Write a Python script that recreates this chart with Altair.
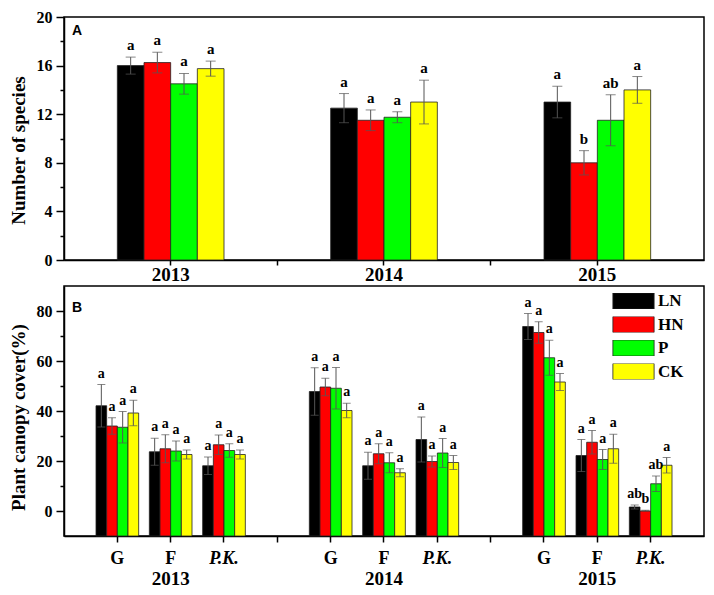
import altair as alt
import pandas as pd

SERIF = "Liberation Serif"
SANS = "Liberation Sans"

years = ["2013", "2014", "2015"]
series = ["LN", "HN", "P", "CK"]
colors = ["#000000", "#ff0000", "#00ff00", "#ffff00"]

# ---- Panel A: number of species (rows = years, cols = series) ----
a_mean = [[16.0, 16.25, 14.5, 15.75],
          [12.5, 11.5, 11.75, 13.0],
          [13.0, 8.0, 11.5, 14.0]]
a_err = [[0.7, 0.85, 0.85, 0.62],
         [1.2, 0.85, 0.45, 1.8],
         [1.3, 1.0, 2.1, 1.1]]
a_letters = [["a", "a", "a", "a"],
             ["a", "a", "a", "a"],
             ["a", "b", "ab", "a"]]

# ---- Panel B: plant canopy cover (year -> category -> series) ----
categories = ["G", "F", "P.K."]
b_mean = {
    "2013": [[42.1, 34.0, 33.5, 39.2], [23.7, 24.9, 24.0, 22.6], [18.1, 26.5, 24.2, 22.6]],
    "2014": [[47.8, 49.6, 49.1, 40.2], [18.1, 22.9, 19.3, 15.3], [28.6, 19.8, 23.2, 19.4]],
    "2015": [[73.8, 71.4, 61.3, 51.6], [22.2, 27.5, 20.6, 24.9], [1.6, 0.0, 10.9, 18.3]],
}
b_err = {
    "2013": [[8.5, 3.3, 6.3, 5.1], [5.4, 5.6, 4.0, 1.8], [3.5, 3.9, 2.7, 1.8]],
    "2014": [[9.5, 3.5, 8.3, 2.9], [5.4, 4.0, 4.0, 1.6], [9.0, 2.2, 5.8, 2.8]],
    "2015": [[5.2, 4.3, 7.0, 3.4], [6.4, 4.7, 4.0, 5.8], [0.8, 0.3, 3.1, 3.1]],
}
b_letters = {
    "2013": [["a"] * 4, ["a"] * 4, ["a"] * 4],
    "2014": [["a"] * 4, ["a"] * 4, ["a"] * 4],
    "2015": [["a"] * 4, ["a"] * 4, ["ab", "b", "ab", "a"]],
}

# ---- tables ----
rows = []
for i, y in enumerate(years):
    for j, s in enumerate(series):
        m, e = a_mean[i][j], a_err[i][j]
        rows.append(dict(year=y, series=s, mean=m, lo=m - e, hi=m + e, letter=a_letters[i][j]))
dfA = pd.DataFrame(rows)

rows = []
for y in years:
    for c_i, c in enumerate(categories):
        for j, s in enumerate(series):
            m, e = b_mean[y][c_i][j], b_err[y][c_i][j]
            rows.append(dict(xkey=f"{y}|{c}", series=s, mean=m, lo=max(m - e, 0), hi=m + e,
                             letter=b_letters[y][c_i][j]))
dfB = pd.DataFrame(rows)
dfYears = pd.DataFrame({"xkey": [f"{y}|F" for y in years], "year": years})

xA_domain = ["2013", "gap1", "2014", "gap2", "2015"]
xB_domain = []
for k, y in enumerate(years):
    xB_domain += [f"{y}|{c}" for c in categories]
    if k < len(years) - 1:
        xB_domain.append(f"gap{k}")

WIDTH = 640
HA = 243
HB = 250

common_axis = dict(domainColor="black", domainWidth=1.5, tickColor="black", tickWidth=1.5,
                   labelColor="black", labelFont=SERIF, labelFontWeight="bold",
                   titleFont=SERIF, titleFontWeight="bold", titleColor="black",
                   grid=False)


def xA(field):
    return alt.X(f"{field}:N",
                 scale=alt.Scale(domain=xA_domain, paddingInner=0, paddingOuter=0.5),
                 axis=alt.Axis(title=None, labelAngle=0,
                               labelExpr="indexof(datum.value,'gap')>=0 ? '' : datum.value",
                               labelFontSize=19, labelPadding=0, tickSize=5, **common_axis))


def yA(field):
    return alt.Y(f"{field}:Q", scale=alt.Scale(domain=[0, 20], nice=False),
                 axis=alt.Axis(title="Number of species", values=list(range(0, 21, 2)),
                               labelExpr="datum.value % 4 === 0 ? datum.label : ''",
                               tickSize={"condition": {"test": "datum.value % 4 === 0", "value": 8},
                                         "value": 4},
                               labelFontSize=16, labelPadding=4, titleFontSize=19,
                               titlePadding=8, titleY=133, **common_axis))


def xB(field):
    return alt.X(f"{field}:N",
                 scale=alt.Scale(domain=xB_domain, paddingInner=0.2, paddingOuter=0.6),
                 axis=alt.Axis(title=None, labelAngle=0,
                               labelExpr="indexof(datum.value,'|')>0 ? split(datum.value,'|')[1] : ''",
                               labelFontStyle={"condition": {"test": "indexof(datum.value,'P.K.')>=0",
                                                             "value": "italic"}, "value": "normal"},
                               labelFontSize=18, labelPadding=7, tickSize=6, **common_axis))


def yB(field):
    return alt.Y(f"{field}:Q", scale=alt.Scale(domain=[-10, 90], nice=False),
                 axis=alt.Axis(title="Plant canopy cover(%)", values=list(range(0, 81, 10)),
                               labelExpr="datum.value % 20 === 0 ? datum.label : ''",
                               tickSize={"condition": {"test": "datum.value % 20 === 0", "value": 8},
                                         "value": 4},
                               labelFontSize=16, labelPadding=4, titleFontSize=19,
                               titlePadding=8, titleY=131, **common_axis))


xoff = alt.XOffset("series:N", scale=alt.Scale(domain=series, paddingInner=0, paddingOuter=0))
ERR = "#555555"

# ---- panel A ----
baseA = alt.Chart(dfA)
barsA = baseA.mark_bar(stroke="#222222", strokeWidth=0.8).encode(
    x=xA("year"), xOffset=xoff, y=yA("mean"),
    color=alt.Color("series:N", scale=alt.Scale(domain=series, range=colors), legend=None))
ruleA = baseA.mark_rule(color=ERR, strokeWidth=1).encode(
    x=xA("year"), xOffset=xoff, y=yA("lo"), y2="hi:Q")
capA = baseA.transform_fold(["lo", "hi"], as_=["k", "v"]).mark_tick(
    color=ERR, thickness=1, size=10).encode(x=xA("year"), xOffset=xoff, y=yA("v"))
txtA = baseA.mark_text(font=SERIF, fontWeight="bold", fontSize=15, baseline="bottom", dy=-4,
                       color="black").encode(
    x=xA("year"), xOffset=xoff, y=yA("hi"), text="letter:N")
labA = alt.Chart(pd.DataFrame({"t": ["A"]})).mark_text(
    font=SANS, fontWeight="bold", fontSize=14, align="left", baseline="alphabetic",
    color="black").encode(text="t:N", x=alt.value(8), y=alt.value(18))
panelA = alt.layer(barsA, ruleA, capA, txtA, labA).properties(width=WIDTH, height=HA)

# ---- panel B ----
baseB = alt.Chart(dfB)
barsB = baseB.mark_bar(stroke="#222222", strokeWidth=0.8).encode(
    x=xB("xkey"), xOffset=xoff, y=yB("mean"), y2=alt.datum(-10),
    color=alt.Color("series:N", scale=alt.Scale(domain=series, range=colors),
                    legend=alt.Legend(orient="none", legendX=548, legendY=7, title=None,
                                      symbolType="M-1,-0.39H1V0.39H-1Z", symbolSize=1700,
                                      symbolStrokeColor="#222222", symbolStrokeWidth=0.8,
                                      symbolOpacity=1, clipHeight=16, rowPadding=6.5,
                                      labelFont=SERIF, labelFontWeight="bold", labelFontSize=17,
                                      labelColor="black", labelOffset=3, padding=0)))
ruleB = baseB.mark_rule(color=ERR, strokeWidth=1).encode(
    x=xB("xkey"), xOffset=xoff, y=yB("lo"), y2="hi:Q")
capB = baseB.transform_fold(["lo", "hi"], as_=["k", "v"]).mark_tick(
    color=ERR, thickness=1, size=8).encode(x=xB("xkey"), xOffset=xoff, y=yB("v"))
txtB = baseB.mark_text(font=SERIF, fontWeight="bold", fontSize=14, baseline="bottom", dy=-4,
                       color="black").encode(
    x=xB("xkey"), xOffset=xoff, y=yB("hi"), text="letter:N")
yearB = alt.Chart(dfYears).mark_text(font=SERIF, fontWeight="bold", fontSize=19,
                                     baseline="alphabetic", color="black").encode(
    x=xB("xkey"), text="year:N", y=alt.value(HB + 49))
labB = alt.Chart(pd.DataFrame({"t": ["B"]})).mark_text(
    font=SANS, fontWeight="bold", fontSize=14, align="left", baseline="alphabetic",
    color="black").encode(text="t:N", x=alt.value(8), y=alt.value(26))
panelB = alt.layer(barsB, ruleB, capB, txtB, yearB, labB).properties(width=WIDTH, height=HB)

chart = alt.vconcat(panelA, panelB, spacing=0).resolve_scale(
    x="independent", xOffset="independent", color="independent"
).properties(
    padding={"left": 0, "top": 0, "right": 1, "bottom": 0}
).configure_view(stroke="black", strokeWidth=1.5)

chart.save("out.html", embed_options={"renderer": "svg", "actions": False})
